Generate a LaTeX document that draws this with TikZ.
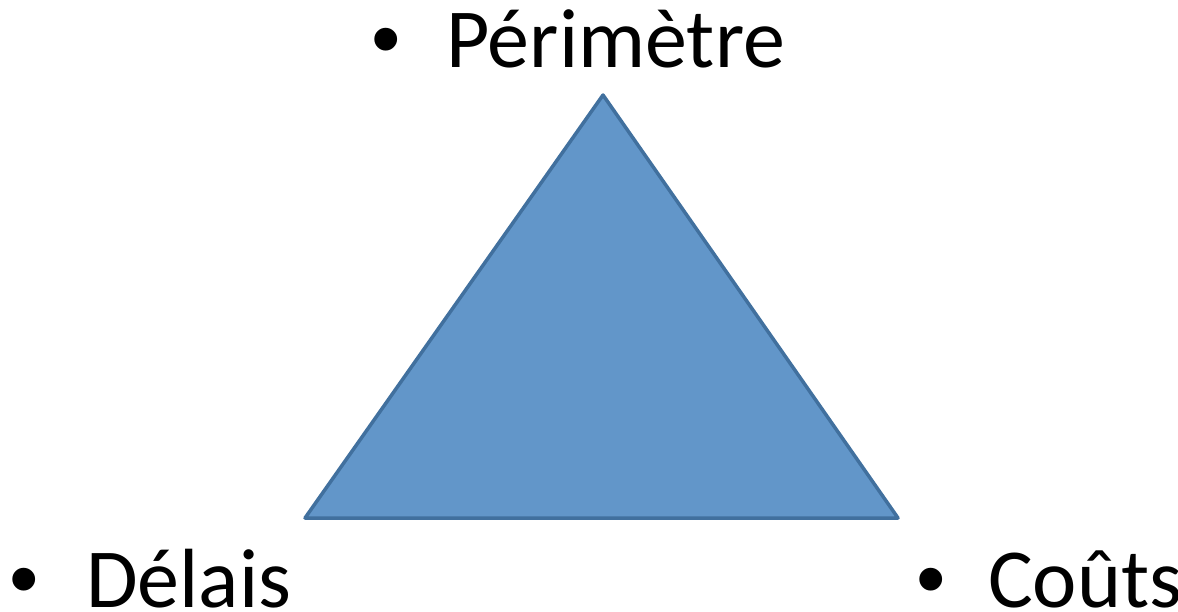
\documentclass[tikz,border=0pt]{standalone}
\usepackage{fontspec}
\setmainfont{Carlito}
\newfontfamily\bulletfont{Liberation Sans}
\definecolor{trifill}{RGB}{98,150,201}
\definecolor{triline}{RGB}{65,112,158}
\begin{document}
\begin{tikzpicture}[x=1pt,y=-1pt,
  label/.style={inner sep=0pt,anchor=base west,text depth=0pt,font=\fontsize{84}{100}\selectfont},
  bul/.style={inner sep=0pt,anchor=base west,text depth=0pt,font=\bulletfont\fontsize{84}{100}\selectfont}]
\useasboundingbox (0,0) rectangle (1178,612);
\coordinate (A) at (603,95);
\coordinate (B) at (305,518);
\coordinate (C) at (898,518);
\draw[fill=trifill,draw=triline,line width=3.5pt,line join=round] (A) -- (B) -- (C) -- cycle;
\node[bul] (b1) at (371,68) {•};
\node[label] (t1) at (446,68) {Périmètre};
\node[bul] (b2) at (9,607) {•};
\node[label] (t2) at (86,607) {Délais};
\node[bul] (b3) at (916,607) {•};
\node[label] (t3) at (988,607) {Coûts};
\end{tikzpicture}
\end{document}
